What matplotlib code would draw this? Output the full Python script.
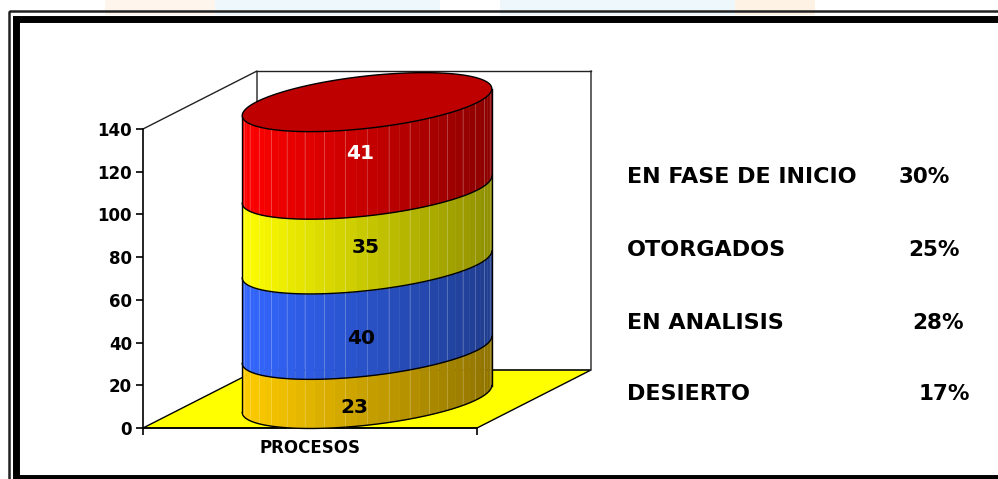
import numpy as np
import matplotlib
matplotlib.use("Agg")
import matplotlib.pyplot as plt
from matplotlib.patches import Polygon, Rectangle

plt.rcParams['font.family'] = ['DejaVu Sans']

# stacked values, bottom to top
values = [23, 40, 35, 41]
left_colors = ['#FFCC00', '#3366FF', '#FFFF00', '#FF0000']
right_colors = ['#8F7300', '#1F3D8F', '#8F8F00', '#8B0000']
value_colors = ['black', 'black', 'black', 'white']
yticks = [0, 20, 40, 60, 80, 100, 120, 140]
category = 'PROCESOS'
legend_names = ['EN FASE DE INICIO', 'OTORGADOS', 'EN ANALISIS', 'DESIERTO']
legend_pcts = ['30%', '25%', '28%', '17%']

W, H = 998, 479
fig = plt.figure(figsize=(W / 100, H / 100), dpi=100, facecolor='white')

# frame and page strip in pixel coords
bg = fig.add_axes([0, 0, 1, 1], zorder=0)
bg.set_xlim(0, W)
bg.set_ylim(H, 0)
bg.axis('off')
strip = [(105, 110, '#FEF5EC'), (215, 225, '#EEF8FC'), (500, 235, '#EEF8FC'), (735, 80, '#FDF2E4')]
for x0, w, c in strip:
    bg.add_patch(Rectangle((x0, 0), w, 15, fc=c, ec='none'))
bg.add_patch(Rectangle((9.5, 11), 1200, 600, fc='none', ec='#222222', lw=1.8))
bg.add_patch(Rectangle((16.5, 18.5), 1200, 459.5, fc='white', ec='black', lw=5))

# front plane of the chart: x is 0..1 across the floor, y is the value
ax = fig.add_axes([143 / W, 1 - 428 / H, 334 / W, 299 / H], zorder=1)
ax.set_xlim(0, 1)
ax.set_ylim(0, 140)
ax.patch.set_visible(False)
for s in ['top', 'right']:
    ax.spines[s].set_visible(False)
ax.spines['left'].set_linewidth(1.2)
ax.spines['bottom'].set_linewidth(1.2)
ax.set_yticks(yticks)
ax.set_xticks([0, 1], ['', ''])
ax.set_xticks([0.5], [category], minor=True)
ax.tick_params(axis='x', which='minor', length=0, pad=8, labelsize=12)
ax.tick_params(axis='y', length=5, width=1.2, pad=3, labelsize=12)
ax.tick_params(axis='x', which='major', length=5, width=1.2)
for lab in ax.get_yticklabels() + ax.get_xminorticklabels():
    lab.set_fontweight('bold')

# depth of the box
dx = 114 / 334
dy = 58 / (299 / 140)

ax.add_patch(Polygon([(0, 0), (1, 0), (1 + dx, dy), (dx, dy)], fc='#FFFF00', ec='black', lw=1, clip_on=False))
ax.plot([0, dx, dx, 1 + dx, 1 + dx], [140, 140 + dy, dy, dy, 140 + dy], color='#222222', lw=1, clip_on=False)
ax.plot([dx, 1 + dx], [140 + dy, 140 + dy], color='#222222', lw=1, clip_on=False)


def ellipse(t, base):
    x = 0.5 + dx / 2 + 0.3323 * np.cos(t) + dx / 2 * np.sin(t)
    y = base + dy / 2 + dy / 2 * 1.017 * np.sin(t)
    return x, y


# silhouette angles of the cylinder, right side round the front to left side
t0 = np.arctan2(dx / 2, 0.3323)
ts = np.linspace(t0, t0 - np.pi, 37)
tfine = np.linspace(t0, t0 - np.pi, 150)

bottom = 0
for val, c1, c2 in zip(values, left_colors, right_colors):
    top = bottom + val
    a = np.array(matplotlib.colors.to_rgb(c1))
    b = np.array(matplotlib.colors.to_rgb(c2))
    for i in range(len(ts) - 1):
        seg = np.linspace(ts[i], ts[i + 1], 4)
        xb, yb = ellipse(seg, bottom)
        xt, yt = ellipse(seg, top)
        xmid = (xb.mean() - 0.295) / 0.75
        col = a + (b - a) * np.clip(xmid, 0, 1)
        ax.fill(np.r_[xb, xt[::-1]], np.r_[yb, yt[::-1]], fc=col, ec=col, lw=0.3, clip_on=False, zorder=3)
        if i % 2 == 0:
            # pale facet line
            ax.plot([xb[0], xt[0]], [yb[0], yt[0]], color=(1, 1, 1, 0.2), lw=0.7, clip_on=False, zorder=3.1)
    xb, yb = ellipse(tfine, bottom)
    ax.plot(xb, yb, color='black', lw=1, clip_on=False, zorder=4)
    bottom = top

# outline and top cap
total = sum(values)
xs, ys = ellipse(tfine[[0, -1]], 0)
xt, yt = ellipse(tfine[[0, -1]], total)
for k in range(2):
    ax.plot([xs[k], xt[k]], [ys[k], yt[k]], color='black', lw=1, clip_on=False, zorder=4)
xc, yc = ellipse(np.linspace(0, 2 * np.pi, 200), total)
ax.fill(xc, yc, fc='#BF0000', ec='black', lw=1, clip_on=False, zorder=4)

# value labels, placed by hand on the front of each band
label_x = [0.633, 0.653, 0.668, 0.65]
label_y = [9.4, 41.7, 84.7, 128.3]
for val, c, lx, ly in zip(values, value_colors, label_x, label_y):
    ax.text(lx, ly, str(val), color=c, fontsize=14.5, fontweight='bold', ha='center', va='center',
            clip_on=False, zorder=5)

# side list
name_y = [177, 250, 323, 394]
pct_x = [950, 960, 964, 970]
for name, pct, y, x in zip(legend_names, legend_pcts, name_y, pct_x):
    bg.text(627, y, name, fontsize=16, fontweight='bold', ha='left', va='center')
    bg.text(x, y, pct, fontsize=15.5, fontweight='bold', ha='right', va='center')

fig.savefig('out.png', dpi=100)
